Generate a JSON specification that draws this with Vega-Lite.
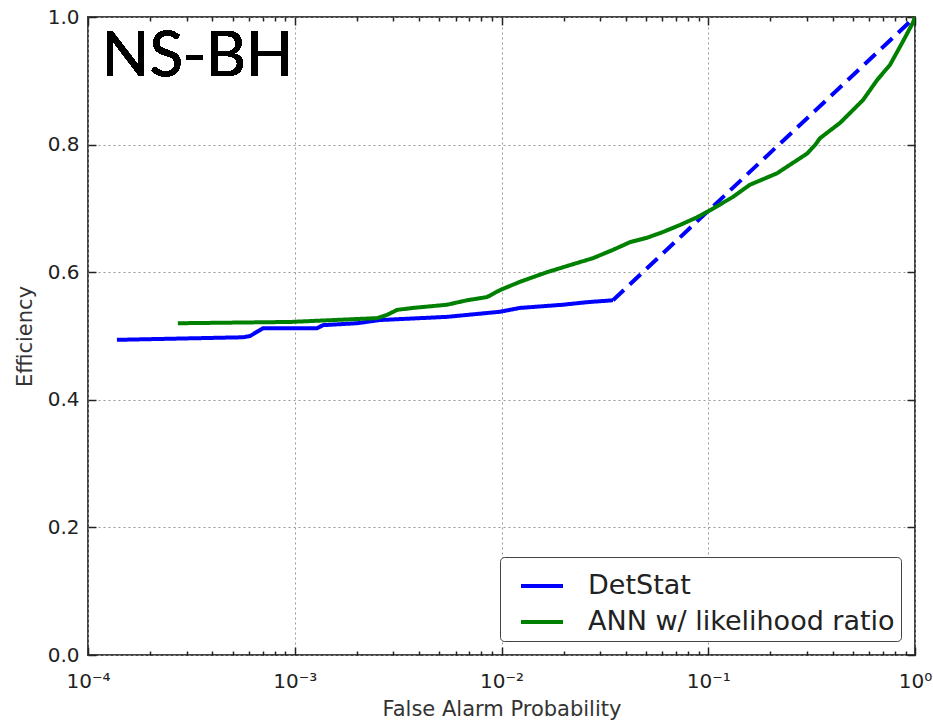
{
  "$schema": "https://vega.github.io/schema/vega-lite/v6.json",
  "width": 827,
  "height": 638,
  "autosize": {"type": "none"},
  "padding": {"left": 88, "top": 17, "right": 18, "bottom": 67},
  "background": "white",
  "config": {
    "view": {"stroke": "#444", "strokeWidth": 2},
    "font": "DejaVu Sans",
    "axis": {
      "domain": false,
      "labelFont": "DejaVu Sans",
      "labelFontSize": 20,
      "labelColor": "#222",
      "titleFont": "DejaVu Sans",
      "titleFontWeight": "normal",
      "titleColor": "#333",
      "titleFontSize": 21,
      "tickColor": "#222",
      "tickWidth": 1.5,
      "gridColor": "#999",
      "gridDash": [2, 3],
      "gridWidth": 1
    }
  },
  "data": {
    "values": [
      {"series": "DetStat", "seg": "solid", "x": 0.000138, "y": 0.494},
      {"series": "DetStat", "seg": "solid", "x": 0.000562, "y": 0.498},
      {"series": "DetStat", "seg": "solid", "x": 0.000608, "y": 0.500},
      {"series": "DetStat", "seg": "solid", "x": 0.000701, "y": 0.512},
      {"series": "DetStat", "seg": "solid", "x": 0.00128, "y": 0.512},
      {"series": "DetStat", "seg": "solid", "x": 0.00137, "y": 0.517},
      {"series": "DetStat", "seg": "solid", "x": 0.002, "y": 0.520},
      {"series": "DetStat", "seg": "solid", "x": 0.00258, "y": 0.525},
      {"series": "DetStat", "seg": "solid", "x": 0.00545, "y": 0.530},
      {"series": "DetStat", "seg": "solid", "x": 0.00984, "y": 0.538},
      {"series": "DetStat", "seg": "solid", "x": 0.0123, "y": 0.544},
      {"series": "DetStat", "seg": "solid", "x": 0.0198, "y": 0.549},
      {"series": "DetStat", "seg": "solid", "x": 0.0259, "y": 0.553},
      {"series": "DetStat", "seg": "solid", "x": 0.0346, "y": 0.556},
      {"series": "DetStat", "seg": "dashed", "x": 0.0346, "y": 0.556},
      {"series": "DetStat", "seg": "dashed", "x": 1.0, "y": 1.0},
      {"series": "ANN w/ likelihood ratio", "seg": "solid", "x": 0.000272, "y": 0.520},
      {"series": "ANN w/ likelihood ratio", "seg": "solid", "x": 0.000948, "y": 0.522},
      {"series": "ANN w/ likelihood ratio", "seg": "solid", "x": 0.0025, "y": 0.528},
      {"series": "ANN w/ likelihood ratio", "seg": "solid", "x": 0.00279, "y": 0.533},
      {"series": "ANN w/ likelihood ratio", "seg": "solid", "x": 0.00313, "y": 0.541},
      {"series": "ANN w/ likelihood ratio", "seg": "solid", "x": 0.00373, "y": 0.544},
      {"series": "ANN w/ likelihood ratio", "seg": "solid", "x": 0.00545, "y": 0.549},
      {"series": "ANN w/ likelihood ratio", "seg": "solid", "x": 0.00681, "y": 0.556},
      {"series": "ANN w/ likelihood ratio", "seg": "solid", "x": 0.00851, "y": 0.561},
      {"series": "ANN w/ likelihood ratio", "seg": "solid", "x": 0.00984, "y": 0.572},
      {"series": "ANN w/ likelihood ratio", "seg": "solid", "x": 0.0123, "y": 0.585},
      {"series": "ANN w/ likelihood ratio", "seg": "solid", "x": 0.0166, "y": 0.600},
      {"series": "ANN w/ likelihood ratio", "seg": "solid", "x": 0.0214, "y": 0.611},
      {"series": "ANN w/ likelihood ratio", "seg": "solid", "x": 0.0277, "y": 0.622},
      {"series": "ANN w/ likelihood ratio", "seg": "solid", "x": 0.0346, "y": 0.635},
      {"series": "ANN w/ likelihood ratio", "seg": "solid", "x": 0.0418, "y": 0.647},
      {"series": "ANN w/ likelihood ratio", "seg": "solid", "x": 0.0506, "y": 0.654},
      {"series": "ANN w/ likelihood ratio", "seg": "solid", "x": 0.0604, "y": 0.663},
      {"series": "ANN w/ likelihood ratio", "seg": "solid", "x": 0.073, "y": 0.674},
      {"series": "ANN w/ likelihood ratio", "seg": "solid", "x": 0.0882, "y": 0.686},
      {"series": "ANN w/ likelihood ratio", "seg": "solid", "x": 0.1019, "y": 0.697},
      {"series": "ANN w/ likelihood ratio", "seg": "solid", "x": 0.1317, "y": 0.718},
      {"series": "ANN w/ likelihood ratio", "seg": "solid", "x": 0.159, "y": 0.737},
      {"series": "ANN w/ likelihood ratio", "seg": "solid", "x": 0.215, "y": 0.755},
      {"series": "ANN w/ likelihood ratio", "seg": "solid", "x": 0.301, "y": 0.786},
      {"series": "ANN w/ likelihood ratio", "seg": "solid", "x": 0.33, "y": 0.800},
      {"series": "ANN w/ likelihood ratio", "seg": "solid", "x": 0.347, "y": 0.810},
      {"series": "ANN w/ likelihood ratio", "seg": "solid", "x": 0.434, "y": 0.834},
      {"series": "ANN w/ likelihood ratio", "seg": "solid", "x": 0.561, "y": 0.870},
      {"series": "ANN w/ likelihood ratio", "seg": "solid", "x": 0.655, "y": 0.901},
      {"series": "ANN w/ likelihood ratio", "seg": "solid", "x": 0.757, "y": 0.925},
      {"series": "ANN w/ likelihood ratio", "seg": "solid", "x": 0.865, "y": 0.959},
      {"series": "ANN w/ likelihood ratio", "seg": "solid", "x": 0.977, "y": 0.991},
      {"series": "ANN w/ likelihood ratio", "seg": "solid", "x": 1.0, "y": 1.0}
    ]
  },
  "layer": [
    {
      "mark": {"type": "line", "strokeWidth": 4, "clip": true},
      "encoding": {
        "x": {
          "field": "x", "type": "quantitative",
          "scale": {"type": "log", "domain": [0.0001, 1], "nice": false},
          "axis": {
            "orient": "bottom",
            "title": "False Alarm Probability",
            "titlePadding": 3,
            "values": [0.0001,0.0002,0.0003,0.0004,0.0005,0.0006,0.0007,0.0008,0.0009,0.001,0.002,0.003,0.004,0.005,0.006,0.007,0.008,0.009,0.01,0.02,0.03,0.04,0.05,0.06,0.07,0.08,0.09,0.1,0.2,0.3,0.4,0.5,0.6,0.7,0.8,0.9,1],
            "labelExpr": "datum.value == 0.0001 ? '10⁻⁴' : datum.value == 0.001 ? '10⁻³' : datum.value == 0.01 ? '10⁻²' : datum.value == 0.1 ? '10⁻¹' : datum.value == 1 ? '10⁰' : ''",
            "labelOverlap": false,
            "labelFlush": false,
            "labelPadding": 24,
            "tickSize": {"condition": {"test": "indexof([0.0001,0.001,0.01,0.1,1], datum.value) >= 0", "value": -8}, "value": -4},
            "gridOpacity": {"condition": {"test": "indexof([0.0001,0.001,0.01,0.1,1], datum.value) >= 0", "value": 1}, "value": 0}
          }
        },
        "y": {
          "field": "y", "type": "quantitative",
          "scale": {"domain": [0, 1], "nice": false},
          "axis": {
            "orient": "left",
            "title": "Efficiency",
            "titlePadding": 12,
            "values": [0, 0.2, 0.4, 0.6, 0.8, 1.0],
            "format": ".1f",
            "tickSize": -8,
            "labelPadding": 17
          }
        },
        "color": {
          "field": "series", "type": "nominal",
          "scale": {"domain": ["DetStat", "ANN w/ likelihood ratio"], "range": ["#0000ff", "#008000"]},
          "legend": {
            "title": null,
            "orient": "bottom-right",
            "offset": 14,
            "symbolType": "stroke",
            "symbolStrokeWidth": 4,
            "symbolSize": 1764,
            "symbolOffset": 13,
            "labelFont": "DejaVu Sans",
            "labelFontSize": 27,
            "labelColor": "#222",
            "labelOffset": 23,
            "labelLimit": 500,
            "rowPadding": 0,
            "padding": 6,
            "strokeColor": "#444",
            "cornerRadius": 4,
            "fillColor": "white"
          }
        },
        "strokeDash": {
          "field": "seg", "type": "nominal",
          "scale": {"domain": ["solid", "dashed"], "range": [[1, 0], [15, 8]]},
          "legend": null
        },
        "detail": {"field": "seg"}
      }
    },
    {
      "mark": {"type": "text", "font": "Lato", "fontSize": 62, "align": "left", "baseline": "alphabetic", "color": "black"},
      "encoding": {
        "text": {"value": "NS-BH"},
        "x": {
          "datum": 0.000117, "type": "quantitative",
          "scale": {"type": "log", "domain": [0.0001, 1], "nice": false},
          "axis": {
            "orient": "top",
            "title": null,
            "labels": false,
            "grid": false,
            "values": [0.0001,0.0002,0.0003,0.0004,0.0005,0.0006,0.0007,0.0008,0.0009,0.001,0.002,0.003,0.004,0.005,0.006,0.007,0.008,0.009,0.01,0.02,0.03,0.04,0.05,0.06,0.07,0.08,0.09,0.1,0.2,0.3,0.4,0.5,0.6,0.7,0.8,0.9,1],
            "tickSize": {"condition": {"test": "indexof([0.0001,0.001,0.01,0.1,1], datum.value) >= 0", "value": -8}, "value": -4}
          }
        },
        "y": {
          "datum": 0.907, "type": "quantitative",
          "scale": {"domain": [0, 1], "nice": false},
          "axis": {
            "orient": "right",
            "title": null,
            "labels": false,
            "grid": false,
            "values": [0, 0.2, 0.4, 0.6, 0.8, 1.0],
            "tickSize": -8
          }
        }
      }
    }
  ],
  "resolve": {"axis": {"x": "independent", "y": "independent"}}
}
